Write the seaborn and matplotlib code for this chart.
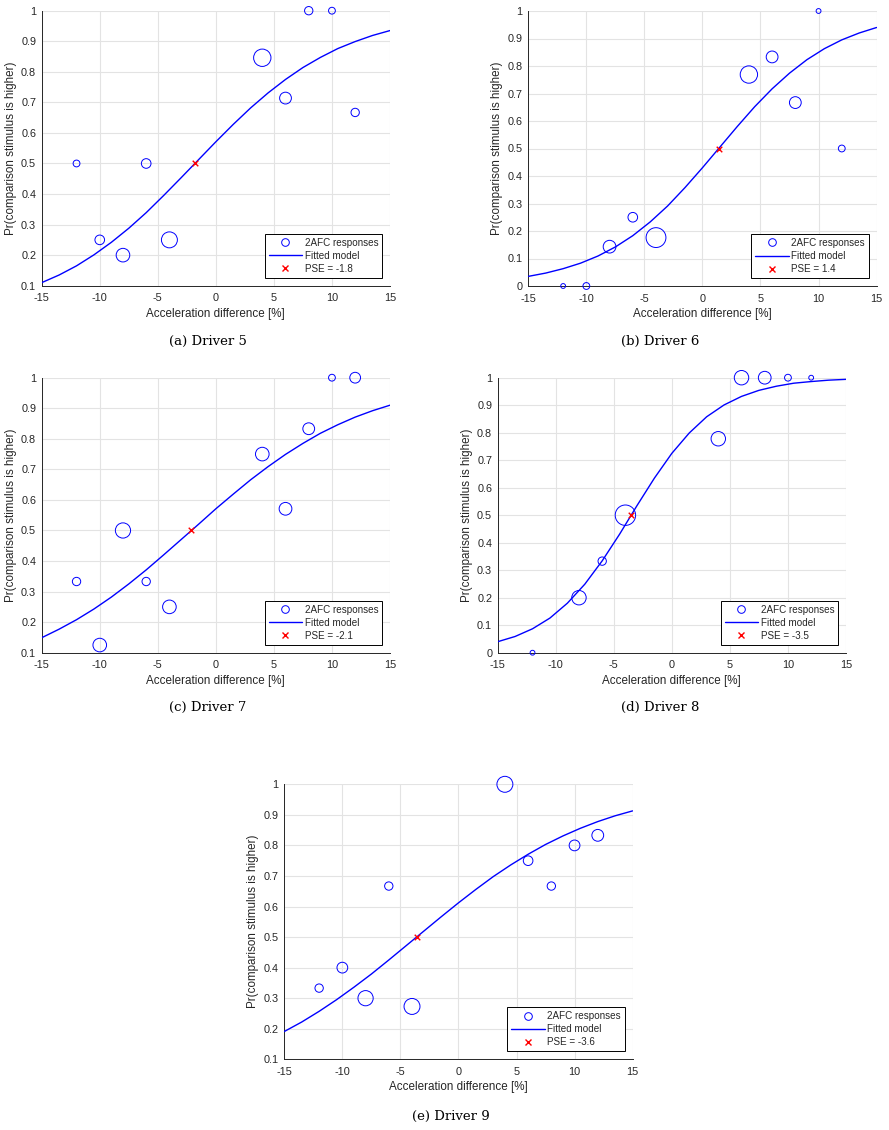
import numpy as np
import pandas as pd
import matplotlib
matplotlib.use('Agg')
import matplotlib.pyplot as plt
from matplotlib.lines import Line2D
import seaborn as sns

# --- Data ---
# acceleration difference levels [%]
DIFF = [-12, -10, -8, -6, -4, 4, 6, 8, 10, 12]
DIFF_D8 = [-12, -8, -6, -4, 4, 6, 8, 10, 12]

# proportion "comparison is higher" and (estimated) number of trials per level
p_d5 = [0.5, 0.25, 0.2, 0.5, 0.25, 0.846, 0.714, 1.0, 1.0, 0.667]
n_d5 = [2, 4, 8, 4, 11, 13, 6, 3, 2, 3]

p_d6 = [0.0, 0.0, 0.143, 0.25, 0.176, 0.769, 0.833, 0.667, 1.0, 0.5]
n_d6 = [1, 2, 7, 4, 17, 13, 6, 6, 1, 2]

p_d7 = [0.333, 0.125, 0.5, 0.333, 0.25, 0.75, 0.571, 0.833, 1.0, 1.0]
n_d7 = [3, 8, 10, 3, 8, 8, 7, 6, 2, 5]

p_d8 = [0.0, 0.2, 0.333, 0.5, 0.778, 1.0, 1.0, 1.0, 1.0]
n_d8 = [1, 9, 3, 18, 9, 9, 7, 2, 1]

p_d9 = [0.333, 0.4, 0.3, 0.667, 0.273, 1.0, 0.75, 0.667, 0.8, 0.833]
n_d9 = [3, 5, 10, 3, 11, 11, 4, 3, 5, 6]

# fitted model curves, read at these x positions
CURVE_X = [-15, -13.5, -12, -10.5, -9, -7.5, -6, -4.5, -3, -1.5, 0,
           1.5, 3, 4.5, 6, 7.5, 9, 10.5, 12, 13.5, 15]
fit_d5 = [0.110, 0.135, 0.165, 0.201, 0.242, 0.288, 0.339, 0.395, 0.453, 0.512, 0.571,
          0.628, 0.682, 0.731, 0.775, 0.814, 0.847, 0.876, 0.899, 0.919, 0.935]
fit_d6 = [0.035, 0.047, 0.063, 0.083, 0.109, 0.142, 0.183, 0.233, 0.291, 0.358, 0.430,
          0.505, 0.580, 0.652, 0.717, 0.774, 0.823, 0.863, 0.895, 0.920, 0.940]
fit_d7 = [0.149, 0.177, 0.208, 0.243, 0.282, 0.325, 0.371, 0.420, 0.470, 0.520, 0.571,
          0.619, 0.666, 0.709, 0.749, 0.785, 0.818, 0.846, 0.871, 0.892, 0.910]
fit_d8 = [0.040, 0.059, 0.087, 0.126, 0.180, 0.249, 0.334, 0.431, 0.535, 0.635, 0.725,
          0.799, 0.858, 0.901, 0.932, 0.954, 0.969, 0.980, 0.986, 0.991, 0.994]
fit_d9 = [0.191, 0.222, 0.257, 0.295, 0.336, 0.379, 0.425, 0.472, 0.519, 0.566, 0.612,
          0.656, 0.698, 0.736, 0.771, 0.803, 0.831, 0.856, 0.878, 0.897, 0.913]

PSE = [-1.8, 1.4, -2.1, -3.5, -3.6]
CAPTIONS = ['(a) Driver 5', '(b) Driver 6', '(c) Driver 7', '(d) Driver 8', '(e) Driver 9']

X_TICKS = [-15, -10, -5, 0, 5, 10, 15]
X_TICKLABELS = ['-15', '-10', '-5', '0', '5', '10', '15']
Y_TICKS_01 = [0.1, 0.2, 0.3, 0.4, 0.5, 0.6, 0.7, 0.8, 0.9, 1.0]
Y_TICKS_0 = [0, 0.1, 0.2, 0.3, 0.4, 0.5, 0.6, 0.7, 0.8, 0.9, 1.0]

# --- Style ---
sns.set_theme(style='whitegrid')
plt.rcParams['font.family'] = ['Liberation Sans', 'DejaVu Sans']
plt.rcParams['axes.unicode_minus'] = False

TXT = '#262626'
GRID = '#e3e3e3'

fig = plt.figure(figsize=(8.89, 11.3), dpi=100)

# axes boxes in pixels: left, top, width, height
W, H = 889, 1130
BOXES = [(41.7, 10.7), (528.3, 11.0), (41.7, 377.7), (497.7, 377.7), (284.3, 784.3)]
AX_W, AX_H = 348.3, 275.0
CAP_POS = [(208, 341), (660, 341), (208, 707), (660, 707), (451, 1116)]

panels = [
    (DIFF, p_d5, n_d5, fit_d5, Y_TICKS_01),
    (DIFF, p_d6, n_d6, fit_d6, Y_TICKS_0),
    (DIFF, p_d7, n_d7, fit_d7, Y_TICKS_01),
    (DIFF_D8, p_d8, n_d8, fit_d8, Y_TICKS_0),
    (DIFF, p_d9, n_d9, fit_d9, Y_TICKS_01),
]

for i, (xs, ps, ns, fit, yticks) in enumerate(panels):
    left, top = BOXES[i]
    ax = fig.add_axes([left / W, 1 - (top + AX_H) / H, AX_W / W, AX_H / H])

    df = pd.DataFrame({'diff': xs, 'prob': ps, 'trials': ns})
    sns.scatterplot(data=df, x='diff', y='prob', size='trials', sizes=(0, 240),
                    size_norm=(0, 20), facecolor='none', edgecolor='blue',
                    linewidth=0.7, legend=False, ax=ax, clip_on=False, zorder=3)
    sns.lineplot(x=CURVE_X, y=fit, color='blue', linewidth=1.0, ax=ax, zorder=4)
    sns.scatterplot(x=[PSE[i]], y=[0.5], marker='x', color='red', s=16,
                    linewidth=1.0, ax=ax, zorder=5)

    ax.set_xlim(-15, 15)
    ax.set_ylim(yticks[0], 1)
    ax.set_xticks(X_TICKS, X_TICKLABELS)
    ax.set_yticks(yticks, [f'{t:g}' for t in yticks])
    ax.grid(True, color=GRID, linewidth=0.8)
    for s in ['top', 'right']:
        ax.spines[s].set_visible(False)
    for s in ['left', 'bottom']:
        ax.spines[s].set_color(TXT)
        ax.spines[s].set_linewidth(0.7)
    ax.tick_params(direction='in', length=3, width=0.6, color=TXT,
                   labelsize=7.8, labelcolor=TXT)
    ax.tick_params(axis='x', pad=5.5)
    ax.tick_params(axis='y', pad=4)
    ax.set_xlabel('Acceleration difference [%]', fontsize=8.4, color=TXT, labelpad=3)
    ax.set_ylabel('Pr(comparison stimulus is higher)', fontsize=8.4, color=TXT, labelpad=3)

    handles = [
        Line2D([], [], linestyle='none', marker='o', markersize=5.5,
               markerfacecolor='none', markeredgecolor='blue', markeredgewidth=0.7),
        Line2D([], [], color='blue', linewidth=1.0),
        Line2D([], [], linestyle='none', marker='x', markersize=4,
               color='red', markeredgewidth=1.0),
    ]
    labels = ['2AFC responses', 'Fitted model', f'PSE = {PSE[i]}']
    leg = ax.legend(handles, labels, loc='lower right', fontsize=7.1, frameon=True,
                    fancybox=False, framealpha=1, edgecolor='black',
                    handlelength=3.4, handletextpad=0.25, borderpad=0.4,
                    labelspacing=0.32, borderaxespad=0.8)
    leg.get_frame().set_linewidth(0.7)
    for t in leg.get_texts():
        t.set_color(TXT)

    cx, cy = CAP_POS[i]
    fig.text(cx / W, 1 - cy / H, CAPTIONS[i], ha='center', va='center',
             fontsize=9.5, family='DejaVu Serif', color='black')

fig.savefig('out.png', dpi=100)
